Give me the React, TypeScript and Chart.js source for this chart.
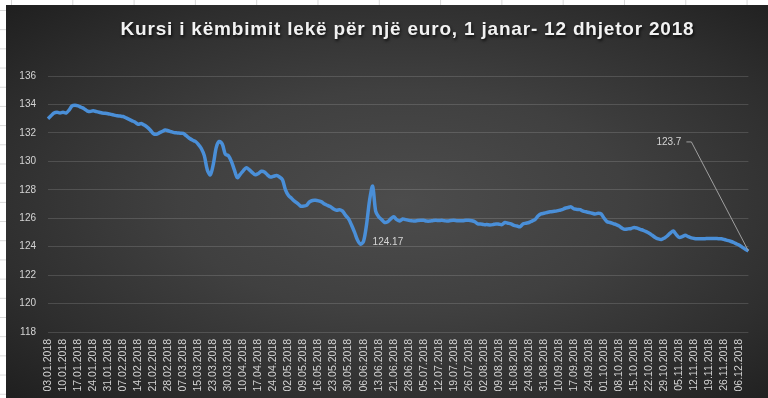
import React, { useEffect, useRef } from 'react';
import { Chart, registerables } from 'chart.js';

Chart.register(...registerables);

const TITLE = 'Kursi i këmbimit lekë për një euro, 1 janar- 12 dhjetor 2018';

// weekly tick labels (every 5th business day)
const tickDates = [
  '03.01.2018', '10.01.2018', '17.01.2018', '24.01.2018', '31.01.2018', '07.02.2018',
  '14.02.2018', '21.02.2018', '28.02.2018', '07.03.2018', '15.03.2018', '23.03.2018',
  '30.03.2018', '10.04.2018', '17.04.2018', '24.04.2018', '02.05.2018', '09.05.2018',
  '16.05.2018', '23.05.2018', '30.05.2018', '06.06.2018', '13.06.2018', '21.06.2018',
  '28.06.2018', '05.07.2018', '12.07.2018', '19.07.2018', '26.07.2018', '02.08.2018',
  '09.08.2018', '16.08.2018', '24.08.2018', '31.08.2018', '10.09.2018', '17.09.2018',
  '24.09.2018', '01.10.2018', '08.10.2018', '15.10.2018', '22.10.2018', '29.10.2018',
  '05.11.2018', '12.11.2018', '19.11.2018', '26.11.2018', '06.12.2018',
];
const TICK_EVERY = 5;

// daily ALL per EUR rates (business days)
const rates = [
  133.0, 133.2, 133.4, 133.45, 133.4, 133.45, 133.4, 133.6, 133.9, 133.95,
  133.9, 133.8, 133.7, 133.55, 133.5, 133.55, 133.5, 133.45, 133.4, 133.38,
  133.35, 133.3, 133.25, 133.2, 133.18, 133.15, 133.05, 132.95, 132.85, 132.75,
  132.6, 132.66, 132.55, 132.4, 132.2, 131.96, 131.9, 132.0, 132.1, 132.2,
  132.15, 132.08, 132.02, 132.0, 131.98, 131.96, 131.8, 131.62, 131.5, 131.4,
  131.2, 130.9, 130.4, 129.4, 129.05, 129.8, 131.0, 131.4, 131.2, 130.5,
  130.4, 130.0, 129.4, 128.85, 129.1, 129.35, 129.55, 129.4, 129.2, 129.05,
  129.15, 129.3, 129.25, 129.05, 128.9, 128.95, 129.0, 128.9, 128.7, 128.0,
  127.6, 127.4, 127.2, 127.05, 126.85, 126.85, 126.9, 127.15, 127.25, 127.26,
  127.22, 127.15, 127.0, 126.9, 126.8, 126.65, 126.56, 126.6, 126.5, 126.2,
  125.95, 125.5, 125.0, 124.45, 124.17, 124.4, 125.6, 127.3, 128.25, 126.5,
  126.1, 125.9, 125.7, 125.75, 125.95, 126.1, 125.9, 125.8, 125.95, 125.9,
  125.85, 125.82, 125.8, 125.84, 125.86, 125.85, 125.8, 125.8, 125.83, 125.85,
  125.84, 125.85, 125.82, 125.8, 125.84, 125.85, 125.83, 125.82, 125.82, 125.85,
  125.86, 125.82, 125.75, 125.6, 125.6, 125.55, 125.55, 125.53, 125.55, 125.6,
  125.58, 125.55, 125.7, 125.65, 125.6, 125.5, 125.45, 125.4, 125.6, 125.65,
  125.7, 125.8, 125.9, 126.15, 126.3, 126.35, 126.4, 126.45, 126.48, 126.5,
  126.55, 126.6, 126.7, 126.75, 126.8, 126.65, 126.62, 126.6, 126.5, 126.45,
  126.4, 126.35, 126.3, 126.35, 126.3, 126.0, 125.75, 125.7, 125.62, 125.55,
  125.45, 125.3, 125.22, 125.25, 125.28, 125.35, 125.3, 125.22, 125.15, 125.06,
  124.95, 124.8, 124.65, 124.55, 124.5, 124.6, 124.75, 124.95, 125.1, 124.85,
  124.65, 124.7, 124.8, 124.7, 124.62, 124.58, 124.56, 124.55, 124.55, 124.57,
  124.58, 124.58, 124.58, 124.56, 124.55, 124.5, 124.44, 124.38, 124.3, 124.2,
  124.1, 123.95, 123.82, 123.7,
];

const Y_MIN = 118;
const Y_MAX = 136;
const Y_STEP = 2;
const LOW_INDEX = 104; // annotated low point (124.17)

const labels = rates.map((_, i) => (i % TICK_EVERY === 0 ? tickDates[i / TICK_EVERY] ?? '' : ''));

const LABEL_COLOR = '#d4d4d4';
const FONT = '"Liberation Sans", Arial, sans-serif';

const titlePlugin = {
  id: 'shadowTitle',
  afterDraw(chart: any) {
    const ctx = chart.ctx as any;
    ctx.save();
    ctx.font = `bold 19px ${FONT}`;
    ctx.letterSpacing = '0.8px';
    ctx.textAlign = 'center';
    ctx.textBaseline = 'middle';
    ctx.shadowColor = 'rgba(0,0,0,0.75)';
    ctx.shadowOffsetX = 1;
    ctx.shadowOffsetY = 2;
    ctx.shadowBlur = 3;
    ctx.fillStyle = '#f2f2f2';
    ctx.fillText(TITLE, 401.5, 25);
    ctx.restore();
  },
};

const notesPlugin = {
  id: 'valueNotes',
  afterDatasetsDraw(chart: any) {
    const pts = chart.getDatasetMeta(0).data;
    const ctx = chart.ctx as CanvasRenderingContext2D;
    ctx.save();
    ctx.font = `10px ${FONT}`;
    ctx.fillStyle = LABEL_COLOR;
    ctx.textBaseline = 'middle';
    const low = pts[LOW_INDEX];
    ctx.textAlign = 'left';
    ctx.fillText(String(rates[LOW_INDEX]), low.x + 12, low.y - 1.5);
    const lastI = rates.length - 1;
    const last = pts[lastI];
    const tx = last.x - 67;
    const ty = last.y - 109;
    ctx.textAlign = 'right';
    ctx.fillText(String(rates[lastI]), tx, ty);
    ctx.strokeStyle = '#a0a0a0';
    ctx.lineWidth = 1;
    ctx.beginPath();
    ctx.moveTo(tx + 5, ty);
    ctx.lineTo(tx + 10, ty);
    ctx.lineTo(last.x, last.y);
    ctx.stroke();
    ctx.restore();
  },
};

export default function App() {
  const ref = useRef<HTMLCanvasElement | null>(null);

  useEffect(() => {
    if (!ref.current) return;
    const chart = new Chart(ref.current, {
      type: 'line',
      data: {
        labels,
        datasets: [
          {
            data: rates,
            borderColor: '#4a8fd8',
            borderWidth: 3.5,
            pointRadius: 0,
            tension: 0.3,
            fill: false,
          },
        ],
      },
      options: {
        animation: false,
        responsive: true,
        maintainAspectRatio: false,
        layout: { padding: { left: 0, right: 13, top: 71, bottom: 0 } },
        plugins: {
          legend: { display: false },
          tooltip: { enabled: false },
          title: { display: false },
        },
        scales: {
          x: {
            type: 'category',
            grid: { display: false, drawTicks: false },
            border: { display: false },
            ticks: {
              autoSkip: false,
              minRotation: 90,
              maxRotation: 90,
              padding: 7,
              color: LABEL_COLOR,
              font: { family: FONT, size: 10.5 },
            },
            afterFit: (s: any) => {
              s.height = 66;
            },
          },
          y: {
            min: Y_MIN,
            max: Y_MAX,
            grid: { color: 'rgba(255,255,255,0.14)', lineWidth: 1, drawTicks: false },
            border: { display: false },
            ticks: {
              stepSize: Y_STEP,
              padding: 12,
              color: LABEL_COLOR,
              font: { family: FONT, size: 10 },
            },
            afterFit: (s: any) => {
              s.width = 42;
            },
          },
        },
      },
      plugins: [notesPlugin, titlePlugin],
    });
    return () => chart.destroy();
  }, []);

  return (
    <div
      style={{
        position: 'fixed',
        inset: 0,
        backgroundColor: '#ffffff',
        backgroundImage:
          'linear-gradient(to right, #d8d8d8 1px, transparent 1px), linear-gradient(to bottom, #d8d8d8 1px, transparent 1px)',
        backgroundSize: '61.3px 19.2px',
        backgroundPosition: '11px 10px',
      }}
    >
      <div
        style={{
          position: 'absolute',
          left: 6,
          top: 5,
          width: 762,
          height: 393,
          background:
            'radial-gradient(ellipse at 52% 50%, #4c4c4c 0%, #404040 40%, #2e2e2e 75%, #1f1f1f 100%)',
        }}
      >
        <canvas ref={ref} />
      </div>
    </div>
  );
}
